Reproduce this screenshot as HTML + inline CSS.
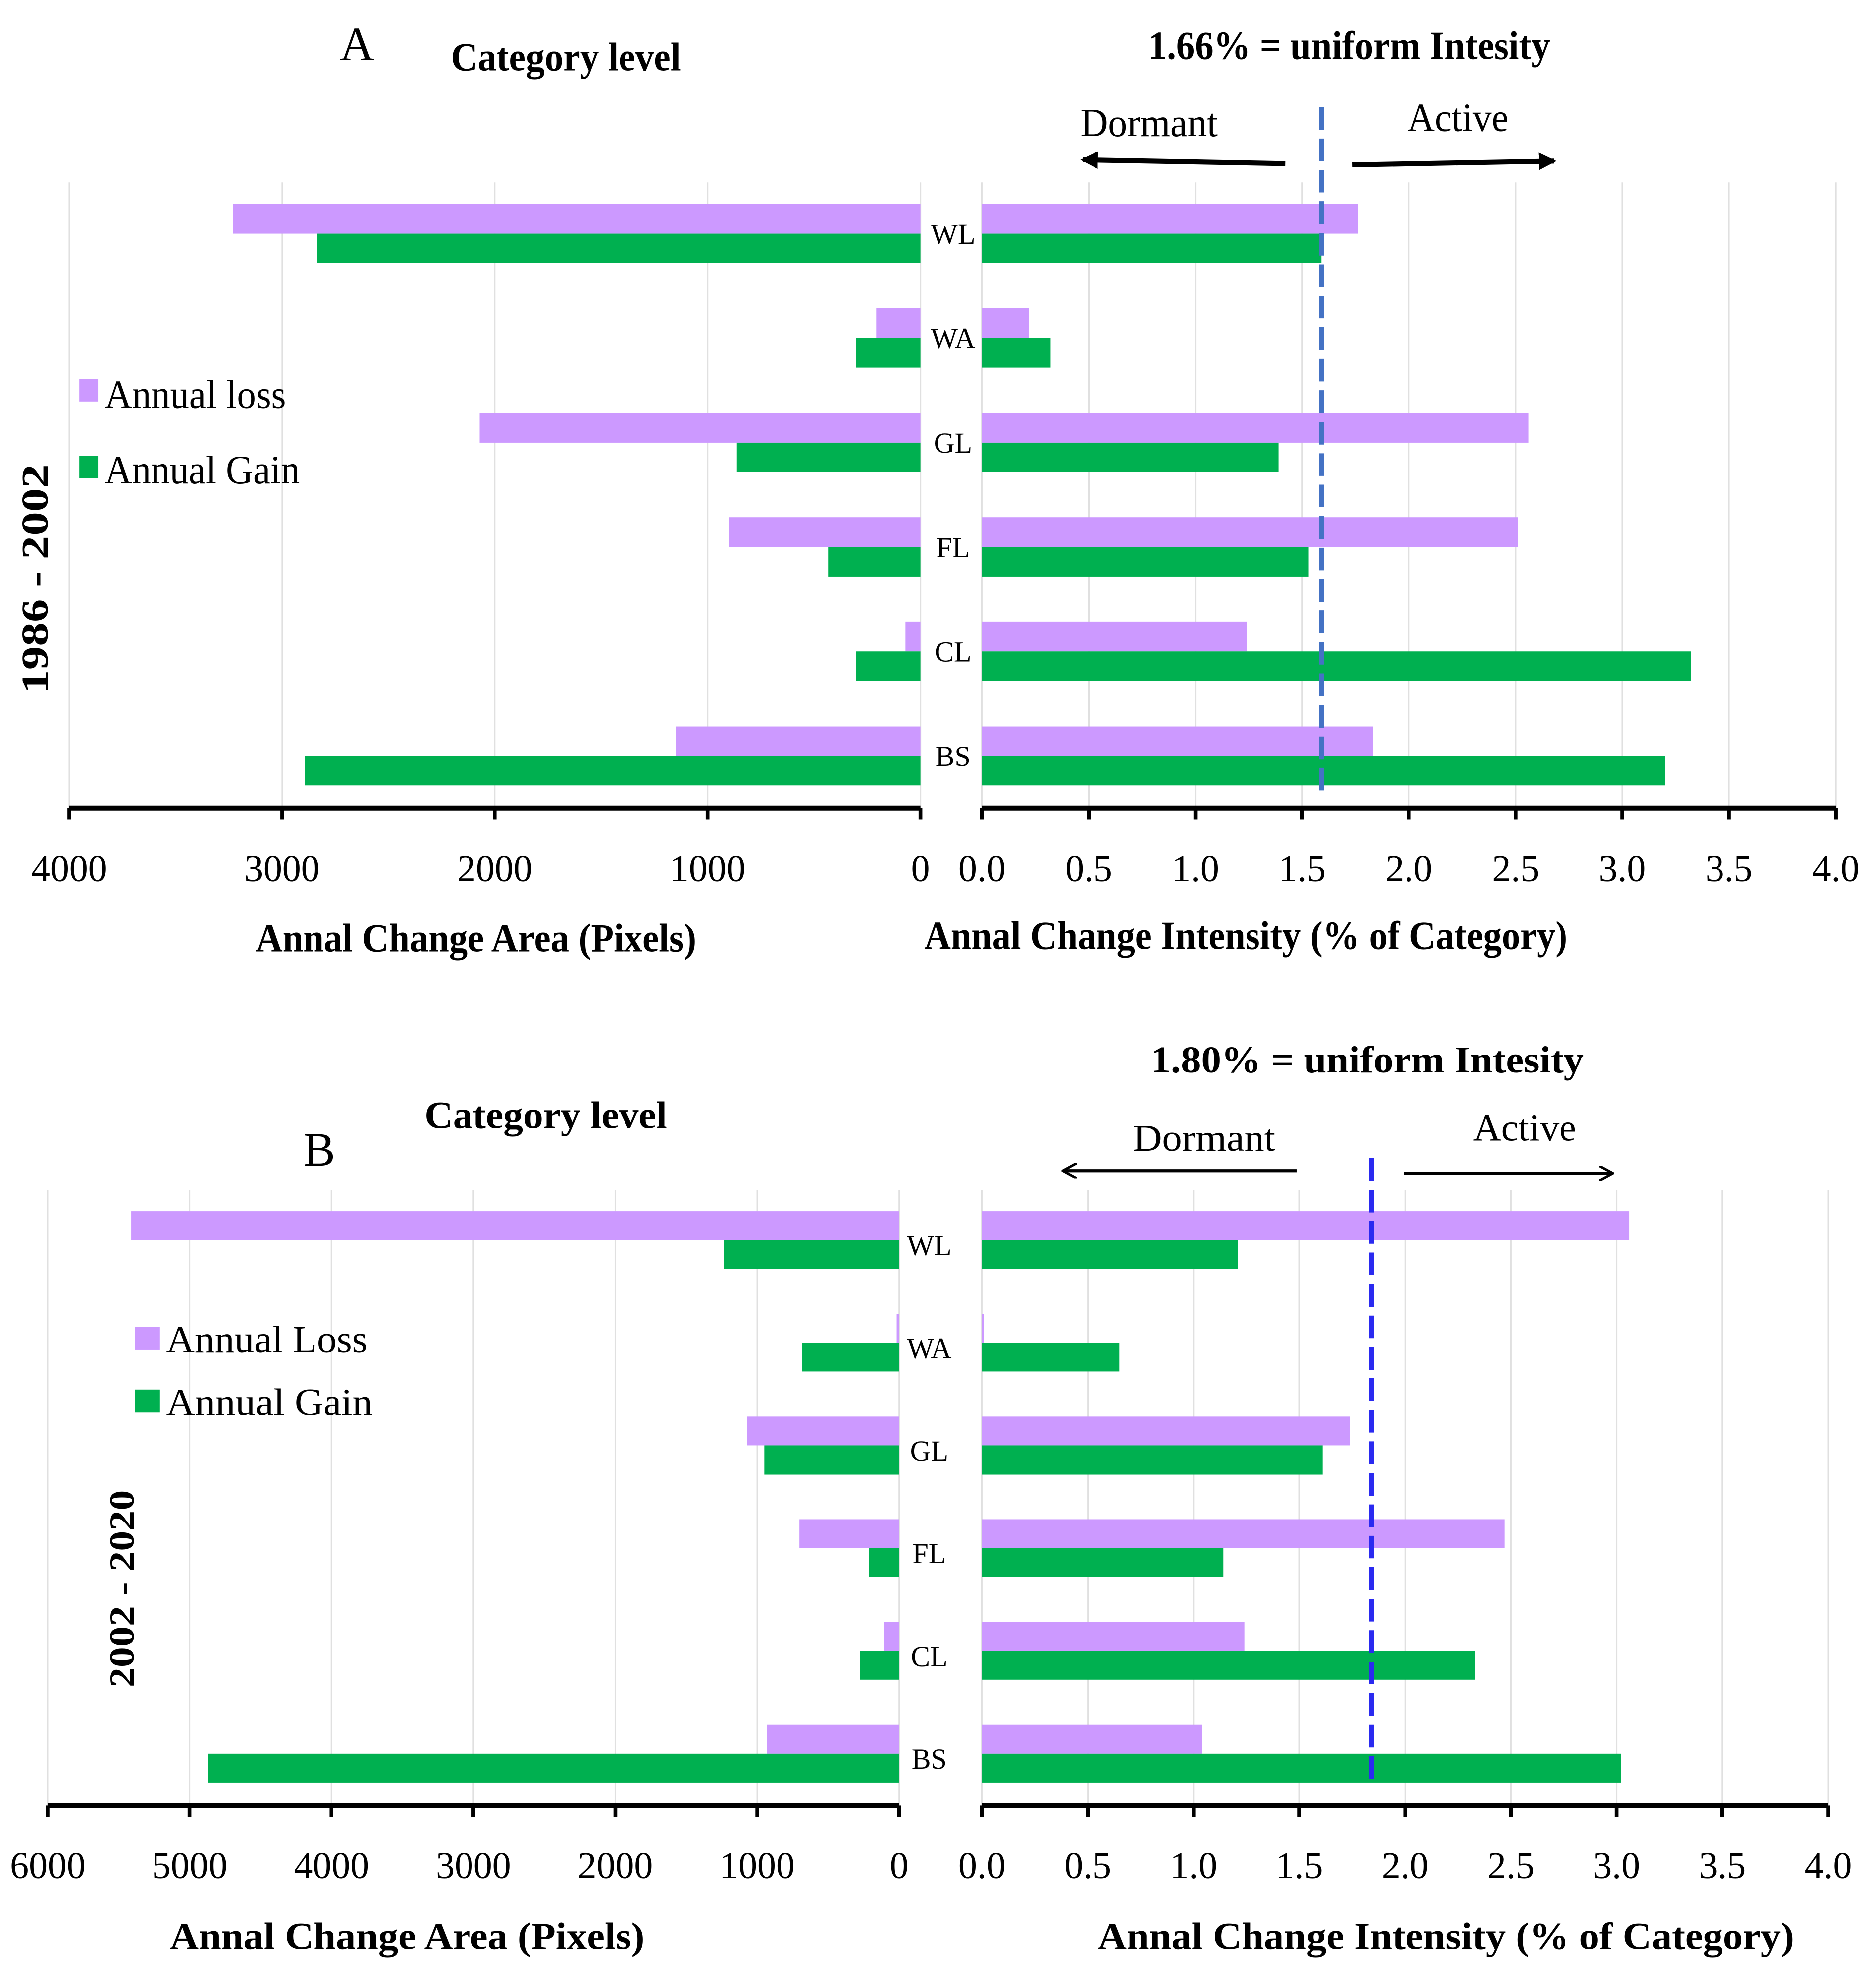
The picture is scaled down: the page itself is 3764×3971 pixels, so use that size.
<!DOCTYPE html>
<html><head><meta charset="utf-8"><style>
html,body{margin:0;padding:0;background:#fff;}
svg{display:block;font-family:"Liberation Serif",serif;}
</style></head><body>
<svg id="chart" width="3764" height="3971" viewBox="0 0 1490 1572" preserveAspectRatio="none" xmlns="http://www.w3.org/2000/svg">
<defs>
<marker id="ah" markerWidth="12" markerHeight="12" refX="10" refY="6" orient="auto" markerUnits="userSpaceOnUse"><path d="M0,0 L11,6 L0,12" fill="none" stroke="#000" stroke-width="2"/></marker>
<marker id="ahs" markerWidth="14" markerHeight="14" refX="12" refY="7" orient="auto" markerUnits="userSpaceOnUse"><path d="M0,0 L14,7 L0,14 Z" fill="#000"/></marker>
</defs>
<g id="g"></g>
</svg>
<script>
const categories = ["WL","WA","GL","FL","CL","BS"];
const aAreaLoss = [3230,207,2071,899,71,1148];
const aAreaGain = [2834,302,864,432,302,2893];
const aIntLoss = [1.76,0.22,2.56,2.51,1.24,1.83];
const aIntGain = [1.59,0.32,1.39,1.53,3.32,3.20];
const aUniform = 1.59;
const bAreaLoss = [5413,18,1074,701,106,932];
const bAreaGain = [1233,683,950,213,275,4871];
const bIntLoss = [3.06,0.01,1.74,2.47,1.24,1.04];
const bIntGain = [1.21,0.65,1.61,1.14,2.33,3.02];
const bUniform = 1.84;
const aAreaTicks = [4000,3000,2000,1000,0];
const bAreaTicks = [6000,5000,4000,3000,2000,1000,0];
const intTicks = ["0.0","0.5","1.0","1.5","2.0","2.5","3.0","3.5","4.0"];

const NS="http://www.w3.org/2000/svg";
const g=document.getElementById('g');
function el(tag,attrs,text){const e=document.createElementNS(NS,tag);for(const k in attrs)e.setAttribute(k,attrs[k]);if(text!==undefined)e.textContent=text;g.appendChild(e);return e;}
const LOSS="#cc99ff", GAIN="#00b050";

function panel(o){
  const ax=v=>o.l0-(v/o.lmax)*(o.l0-o.lEnd);
  const ix=v=>o.r0+(v/4)*(o.rEnd-o.r0);
  o.lTicks.forEach(t=>{const l=el('line',{x1:ax(t),x2:ax(t),y1:o.gTop,y2:o.axisY,stroke:"#e0e0e0","stroke-width":1.2});
    
    });
  intTicks.forEach(t=>{const l=el('line',{x1:ix(+t),x2:ix(+t),y1:o.gTop,y2:o.axisY,stroke:"#e0e0e0","stroke-width":1.2});
    
    });
  categories.forEach((c,i)=>{
    const y=o.y0+i*o.step;
    let r=el('rect',{x:ax(o.aL[i]),y:y,width:ax(0)-ax(o.aL[i]),height:o.bh,fill:LOSS});
    
    
    r=el('rect',{x:ax(o.aG[i]),y:y+o.bh,width:ax(0)-ax(o.aG[i]),height:o.bh,fill:GAIN});
    
    
    r=el('rect',{x:ix(0),y:y,width:ix(o.iL[i])-ix(0),height:o.bh,fill:LOSS});
    
    
    r=el('rect',{x:ix(0),y:y+o.bh,width:ix(o.iG[i])-ix(0),height:o.bh,fill:GAIN});
    
    
    const t=el('text',{x:o.catX,y:y+o.bh+o.catDy,"font-size":23,"text-anchor":"middle"},c);
    
    
  });
  let a=el('line',{x1:o.lEnd,x2:o.l0,y1:o.axisY,y2:o.axisY,stroke:"#000","stroke-width":4});
  
  
  a=el('line',{x1:o.r0,x2:o.rEnd,y1:o.axisY,y2:o.axisY,stroke:"#000","stroke-width":4});
  
  
  o.lTicks.forEach(t=>{el('line',{x1:ax(t),x2:ax(t),y1:o.axisY,y2:o.axisY+9,stroke:"#000","stroke-width":3});
    const tx=el('text',{x:ax(t),y:o.axisY+58,"font-size":30,"text-anchor":"middle"},String(t));
    
    });
  intTicks.forEach(t=>{el('line',{x1:ix(+t),x2:ix(+t),y1:o.axisY,y2:o.axisY+9,stroke:"#000","stroke-width":3});
    const tx=el('text',{x:ix(+t),y:o.axisY+58,"font-size":30,"text-anchor":"middle"},t);
    
    });
  const d=el('line',{x1:ix(o.u),x2:ix(o.u),y1:o.dTop,y2:o.dBot,stroke:o.dc,"stroke-width":4,"stroke-dasharray":"18,7"});
  
  
}
panel({l0:731,lEnd:55,lmax:4000,lTicks:aAreaTicks,r0:780,rEnd:1458,axisY:642,gTop:145,y0:162,step:83,bh:23.5,
  aL:aAreaLoss,aG:aAreaGain,iL:aIntLoss,iG:aIntGain,u:aUniform,catX:757,catDy:8,dTop:85,dBot:635,dc:"#4472c4"});
panel({l0:714,lEnd:38,lmax:6000,lTicks:bAreaTicks,r0:780,rEnd:1452,axisY:1434,gTop:945,y0:962,step:81.6,bh:23,
  aL:bAreaLoss,aG:bAreaGain,iL:bIntLoss,iG:bIntGain,u:bUniform,catX:738,catDy:12,dTop:920,dBot:1420,dc:"#2a2af0"});
</script>
<script>
(function(){
const NS="http://www.w3.org/2000/svg";const g=document.getElementById('g');
function t(x,y,s,txt,name,len,extra){const e=document.createElementNS(NS,'text');e.setAttribute('x',x);e.setAttribute('y',y);e.setAttribute('font-size',s);
if(len){e.setAttribute('textLength',len);e.setAttribute('lengthAdjust','spacingAndGlyphs');}
for(const k in (extra||{}))e.setAttribute(k,extra[k]);e.textContent=txt;


g.appendChild(e);}
t(270,48,38,"A","panel-a-label");
t(358,56,32,"Category level","panel-a-title",183,{"font-weight":"bold"});
t(912,47,32,"1.66% = uniform Intesity","panel-a-uniform-label",319,{"font-weight":"bold"});
t(858,108,32,"Dormant","panel-a-dormant-label",109);
t(1118,104,32,"Active","panel-a-active-label",80);
t(203,756,32,"Annal Change Area (Pixels)","panel-a-area-axis-title",350,{"font-weight":"bold"});
t(734,754,32,"Annal Change Intensity (% of Category)","panel-a-intensity-axis-title",511,{"font-weight":"bold"});
t(38,460,30,"1986 - 2002","panel-a-period-label",182,{"font-weight":"bold","text-anchor":"middle",transform:"rotate(-90 38 460)"});
t(83,324,32,"Annual loss","legend-a-loss",144);
t(83,384,32,"Annual Gain","legend-a-gain",155);
t(241,926,38,"B","panel-b-label");
t(337,896,30,"Category level","panel-b-title",193,{"font-weight":"bold"});
t(914,852,30,"1.80% = uniform Intesity","panel-b-uniform-label",344,{"font-weight":"bold"});
t(900,914,30,"Dormant","panel-b-dormant-label",113);
t(1170,906,30,"Active","panel-b-active-label",82);
t(135,1548,30,"Annal Change Area (Pixels)","panel-b-area-axis-title",377,{"font-weight":"bold"});
t(872,1548,30,"Annal Change Intensity (% of Category)","panel-b-intensity-axis-title",553,{"font-weight":"bold"});
t(106,1262,28,"2002 - 2020","panel-b-period-label",157,{"font-weight":"bold","text-anchor":"middle",transform:"rotate(-90 106 1262)"});
t(132,1074,30,"Annual Loss","legend-b-loss",160);
t(132,1124,30,"Annual Gain","legend-b-gain",164);
function r(x,y,w,h,f,n){const e=document.createElementNS(NS,'rect');e.setAttribute('x',x);e.setAttribute('y',y);e.setAttribute('width',w);e.setAttribute('height',h);e.setAttribute('fill',f);


g.appendChild(e);}
r(63,301,15,18,"#cc99ff","legend-a-loss-swatch");
r(63,362,15,18,"#00b050","legend-a-gain-swatch");
r(107,1054,20,18,"#cc99ff","legend-b-loss-swatch");
r(107,1104,20,18,"#00b050","legend-b-gain-swatch");
function a(x1,y1,x2,y2,m,w,n){const e=document.createElementNS(NS,'line');e.setAttribute('x1',x1);e.setAttribute('y1',y1);e.setAttribute('x2',x2);e.setAttribute('y2',y2);e.setAttribute('stroke','#000');e.setAttribute('stroke-width',w);e.setAttribute('marker-end',m);


g.appendChild(e);}
a(1021,130,860,127,"url(#ahs)",4,"panel-a-dormant-arrow");
a(1074,131,1234,128,"url(#ahs)",4,"panel-a-active-arrow");
a(1030,930,845,930,"url(#ah)",2.5,"panel-b-dormant-arrow");
a(1115,932,1280,932,"url(#ah)",2.5,"panel-b-active-arrow");
})();
</script>
</body></html>
